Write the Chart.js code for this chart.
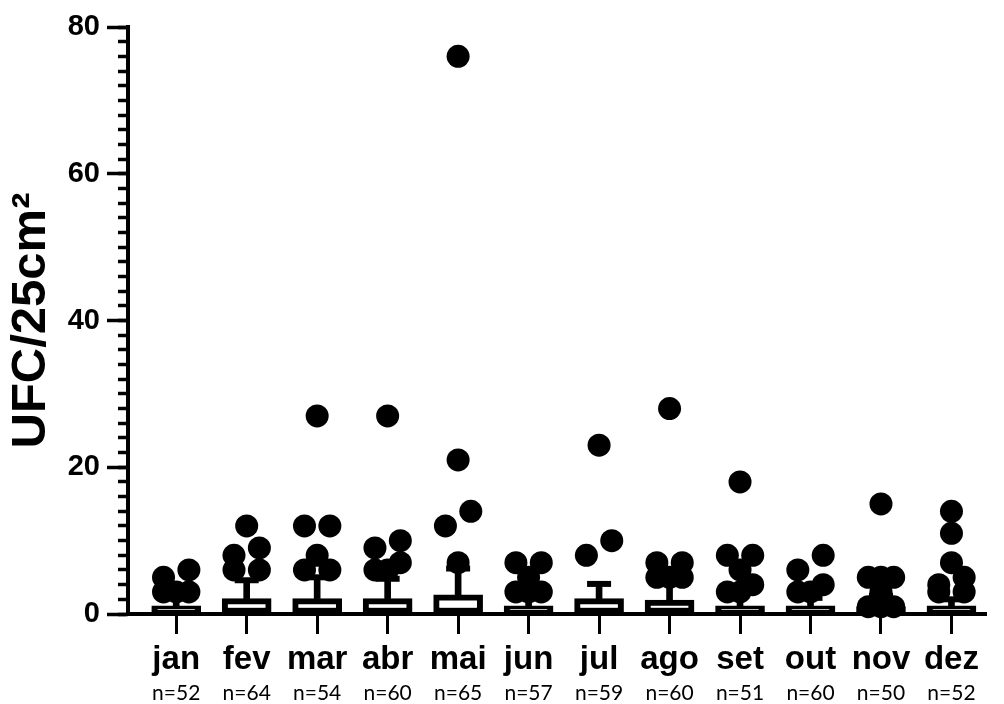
<!DOCTYPE html>
<html lang="pt">
<head>
<meta charset="utf-8">
<title>UFC/25cm² por mês</title>
<script src="https://cdn.jsdelivr.net/npm/chart.js@4.4.1/dist/chart.umd.min.js"></script>
<style>
  html, body { margin: 0; padding: 0; background: #fff; }
  #wrap { width: 1004px; height: 704px; }
</style>
</head>
<body>
<div id="wrap"><canvas id="chart" width="1004" height="704"></canvas></div>
<script>
const months = ['jan', 'fev', 'mar', 'abr', 'mai', 'jun', 'jul', 'ago', 'set', 'out', 'nov', 'dez'];
const sampleSizes = [52, 64, 54, 60, 65, 57, 59, 60, 51, 60, 50, 52];
const means = [1.1, 2.1, 2.1, 2.1, 2.6, 1.1, 2.1, 1.9, 1.1, 1.1, 1.0, 1.1];
const sds = [1.9, 2.5, 2.9, 2.7, 3.6, 2.4, 2.0, 2.6, 2.1, 1.1, 1.5, 0.9];

// visible colony counts per month (zeros sit under the bars)
const janPts = [6, 5, 3, 3, 3];
const fevPts = [12, 9, 8, 6, 6];
const marPts = [27, 12, 12, 8, 6, 6];
const abrPts = [27, 10, 9, 7, 6, 6];
const maiPts = [76, 21, 14, 12, 7];
const junPts = [7, 7, 5, 3, 3, 3];
const julPts = [23, 10, 8];
const agoPts = [28, 7, 7, 5, 5, 5];
const setPts = [18, 8, 8, 6, 4, 3, 3];
const outPts = [8, 6, 4, 3, 3];
const novPts = [15, 5, 5, 5, 3, 1, 1, 1];
const dezPts = [14, 11, 7, 5, 4, 3, 3];
const monthPts = [janPts, fevPts, marPts, abrPts, maiPts, junPts, julPts, agoPts, setPts, outPts, novPts, dezPts];

const yTicks = [0, 20, 40, 60, 80];

const FONT = "'Liberation Sans', Arial, sans-serif";
const SPREAD = 0.18; // horizontal step between neighbouring dots (category units)

// Prism-like spread: close values share a row and get pushed sideways
function swarm(values) {
  const sorted = [...values].sort((a, b) => b - a);
  const rows = [];
  sorted.forEach((v) => {
    const row = rows[rows.length - 1];
    if (row && row[0] - v < 2) row.push(v); else rows.push([v]);
  });
  const merged = [];
  rows.forEach((row) => {
    const prev = merged[merged.length - 1];
    if (prev && prev.length === 1 && row.length === 1 && prev[0] - row[0] < 3) prev.push(row[0]);
    else merged.push(row);
  });
  const out = [];
  merged.forEach((row) => {
    const slots = row.length % 2 ? [0, -1, 1, -2, 2, -3, 3] : [-1, 1, -2, 2, -3, 3];
    row.slice().sort((a, b) => a - b).forEach((v, k) => out.push({ dx: slots[k] * SPREAD, y: v }));
  });
  return out;
}

const dots = [];
monthPts.forEach((vals, i) => {
  swarm(vals).forEach((p) => dots.push({ x: i + p.dx, y: p.y }));
});

const monthTicks = (s) => { s.ticks = months.map((m, i) => ({ value: i })); };
const X_MIN = -0.684, X_MAX = 11.49;

new Chart(document.getElementById('chart'), {
  type: 'bar',
  data: {
    datasets: [
      {
        type: 'scatter',
        data: dots,
        xAxisID: 'x', yAxisID: 'y',
        pointRadius: 11.5, pointHoverRadius: 11.5,
        backgroundColor: '#000', borderWidth: 0,
        clip: false, order: 0,
      },
      {
        type: 'scatter',
        data: months.map((m, i) => ({ x: i, y: means[i] + sds[i] })),
        xAxisID: 'x', yAxisID: 'y',
        pointStyle: 'line', pointRadius: 12, pointHoverRadius: 12,
        borderColor: '#000', borderWidth: 6,
        clip: false, order: 1,
      },
      {
        type: 'bar',
        data: months.map((m, i) => ({ x: i, y: [means[i], means[i] + sds[i]] })),
        xAxisID: 'x', yAxisID: 'y',
        barThickness: 6, grouped: false,
        backgroundColor: '#000', borderWidth: 0,
        order: 2,
      },
      {
        type: 'bar',
        data: months.map((m, i) => ({ x: i, y: means[i] })),
        xAxisID: 'x', yAxisID: 'y',
        barThickness: 49, grouped: false,
        backgroundColor: '#fff', borderColor: '#000',
        borderWidth: 6, borderSkipped: false,
        order: 3,
      },
    ],
  },
  options: {
    responsive: false,
    animation: false,
    events: [],
    layout: { padding: { top: 27, right: 4, left: 0, bottom: 0 } },
    plugins: { legend: { display: false }, tooltip: { enabled: false } },
    scales: {
      x: {
        type: 'linear', axis: 'x', position: 'bottom', weight: 0,
        min: X_MIN, max: X_MAX, offset: false,
        afterBuildTicks: monthTicks,
        afterFit: (s) => { s.height = 65; },
        grid: { drawOnChartArea: false, offset: false, tickLength: 20, tickWidth: 3, tickColor: '#000' },
        border: { color: '#000', width: 4 },
        ticks: {
          autoSkip: false, maxRotation: 0, minRotation: 0, padding: 6,
          color: '#000', font: { family: FONT, size: 33, weight: 'bold' },
          callback: (v) => months[v],
        },
      },
      xn: {
        type: 'linear', axis: 'x', position: 'bottom', weight: 1,
        min: X_MIN, max: X_MAX, offset: false,
        afterBuildTicks: monthTicks,
        afterFit: (s) => { s.height = 25; },
        grid: { display: false, drawTicks: false },
        border: { display: false },
        ticks: {
          autoSkip: false, maxRotation: 0, minRotation: 0, padding: 2,
          color: '#000', font: { family: "Lato, 'Open Sans', sans-serif", size: 21 },
          callback: (v) => 'n=' + sampleSizes[v],
        },
      },
      y: {
        type: 'linear', axis: 'y', position: 'left', weight: 1,
        min: 0, max: 80,
        afterBuildTicks: (s) => { s.ticks = yTicks.map((v) => ({ value: v })); },
        afterFit: (s) => { s.width = 128; },
        grid: { drawOnChartArea: false, tickLength: 21, tickWidth: 3.5, tickColor: '#000' },
        border: { color: '#000', width: 4 },
        ticks: { padding: 7, color: '#000', font: { family: FONT, size: 29, weight: 'bold' } },
        title: {
          display: true, text: 'UFC/25cm²', color: '#000',
          padding: { top: 2, bottom: 0 },
          font: { family: FONT, size: 49, weight: 'bold' },
        },
      },
      yMinor: {
        type: 'linear', axis: 'y', position: 'left', weight: 0,
        min: 0, max: 80,
        ticks: { stepSize: 2, display: false },
        afterFit: (s) => { s.width = 0; },
        grid: { drawOnChartArea: false, tickLength: 10, tickWidth: 3.5, tickColor: '#000' },
        border: { display: false },
      },
    },
  },
});
</script>
</body>
</html>
